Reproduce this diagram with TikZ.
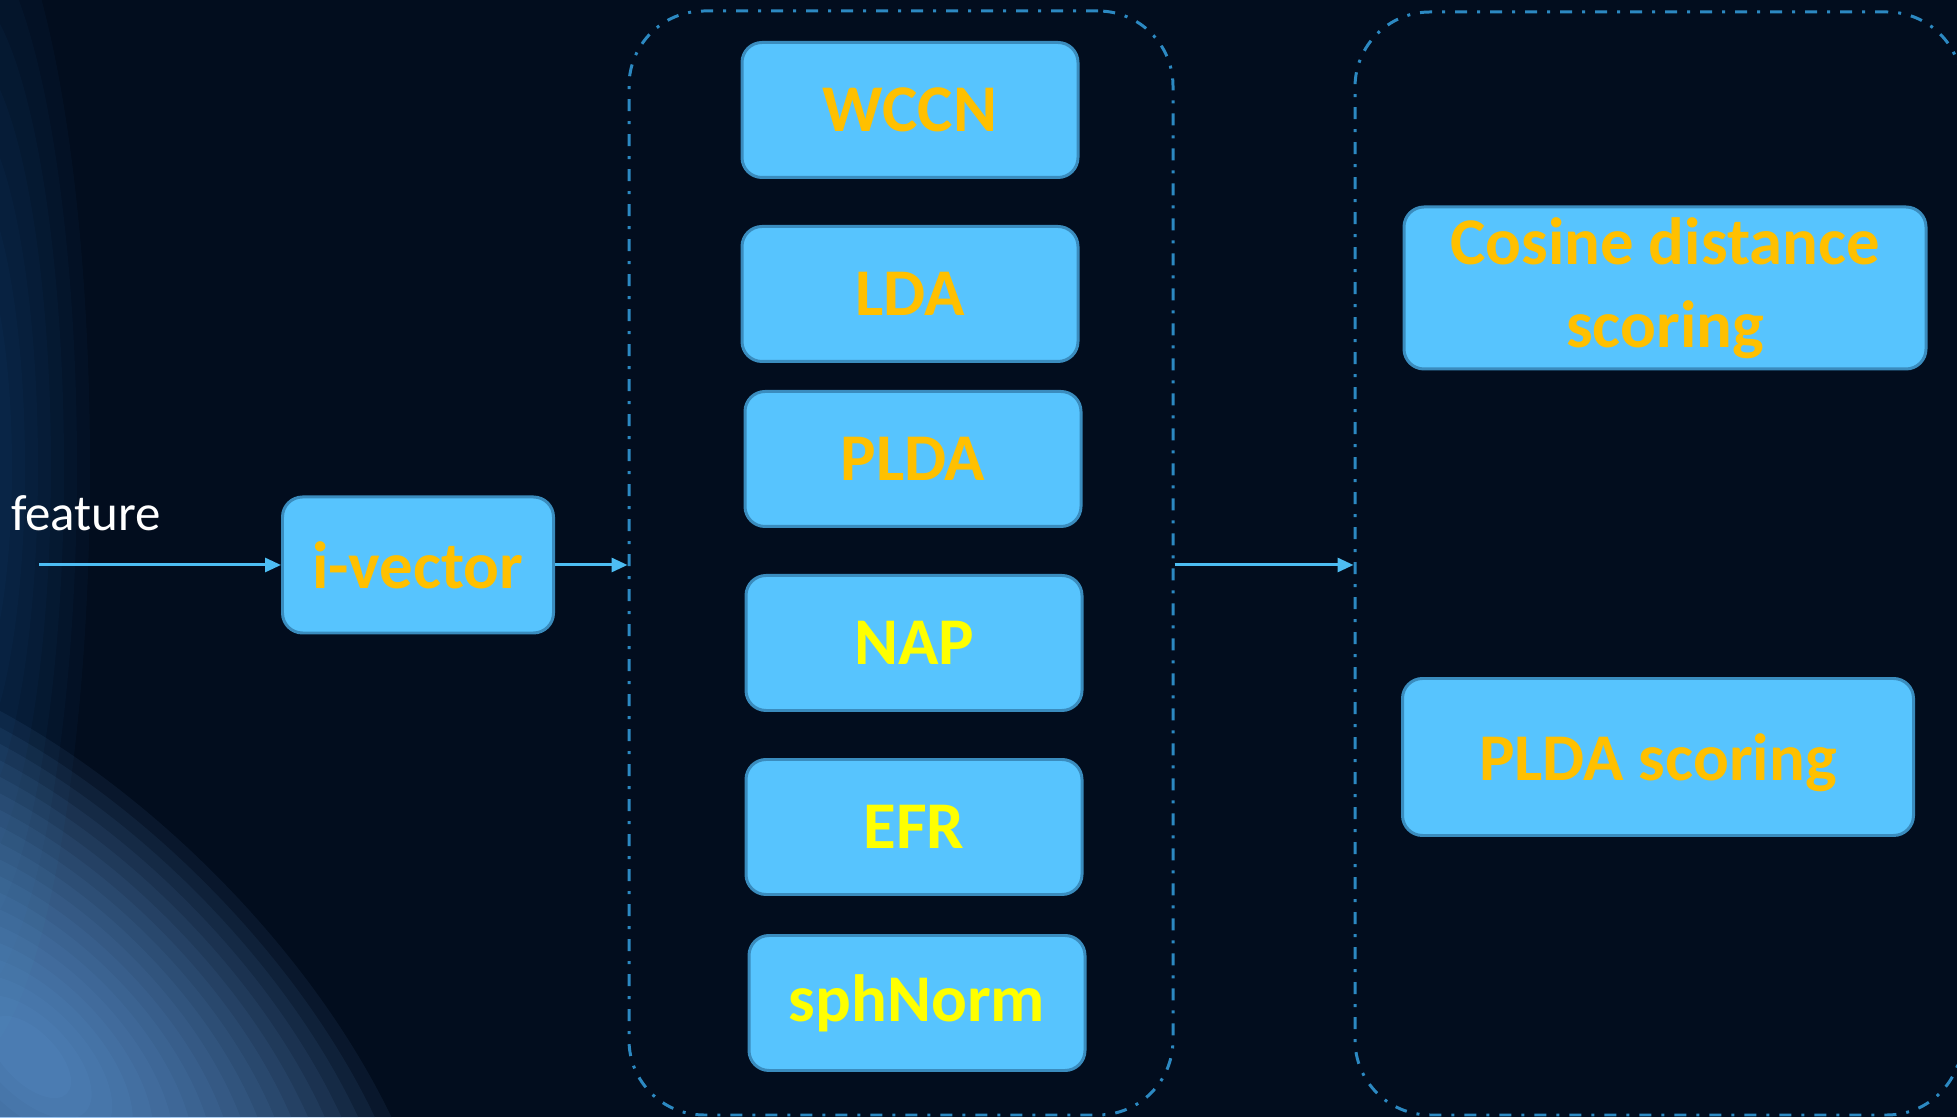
\documentclass[tikz,border=0pt]{standalone}
\usepackage{fontspec}
\setmainfont{Carlito}
\usetikzlibrary{arrows.meta, positioning, calc}

\definecolor{bgnavy}{HTML}{020D1E}
\definecolor{glowlight}{HTML}{6AA8E8}
\definecolor{edgeblue}{HTML}{1C5A9A}
\definecolor{boxfill}{HTML}{57C4FE}
\definecolor{boxline}{HTML}{3A8CBE}
\definecolor{groupline}{HTML}{2C89C2}
\definecolor{arrowblue}{HTML}{4DBDF3}
\definecolor{goldtext}{HTML}{FFC000}
\definecolor{yellowtext}{HTML}{FFFF00}

\begin{document}
\begin{tikzpicture}[>={Triangle[length=0.16cm, width=0.14cm]},
  block/.style={draw=boxline, line width=0.85pt, fill=boxfill, rounded corners=0.2cm,
    minimum width=3.36cm, minimum height=1.35cm, inner sep=0pt, align=center,
    font=\fontsize{19}{23.5}\selectfont\bfseries},
  group/.style={draw=groupline, line width=0.85pt, rounded corners=0.75cm,
    dash pattern=on 0.12cm off 0.1cm on 0.03cm off 0.1cm},
  link/.style={->, arrowblue, line width=0.85pt}]
  \useasboundingbox (0,0) rectangle (19.57,11.17);

  % Background with glow at lower left
  \fill[bgnavy] (0,0) rectangle (19.57,11.17);
  \begin{scope}
    \clip (0,0) rectangle (19.57,11.17);
    \foreach \s in {1.0,0.9,...,0.15}
      \fill[edgeblue, opacity=0.06] (-0.4,6.5) ellipse ({1.3*\s} and {6*\s});
    \foreach \s in {1.0,0.95,...,0.08}
      \fill[glowlight, opacity=0.07, rotate around={-45:(0.3,0.6)}] (0.3,0.6) ellipse ({5.2*\s} and {2.6*\s});
  \end{scope}

  % Dashed groups
  \node[group, minimum width=5.44cm, minimum height=11.04cm] (normgroup) at (9.01,5.54) {};
  \node[group, minimum width=6.07cm, minimum height=11.03cm] (scoregroup) at (16.585,5.535) {};

  % Front end
  \node[text=white, font=\fontsize{14.5}{17}\selectfont] (featlbl) at (0.86,6.04) {feature};
  \coordinate (featsrc) at (0.39,5.52);
  \node[block, minimum width=2.71cm, minimum height=1.36cm, text=goldtext] (ivec) at (4.18,5.52) {i-vector};

  % Compensation / normalisation
  \node[block, text=goldtext] (wccn) at (9.10,10.07) {WCCN};
  \node[block, text=goldtext] (lda) at (9.10,8.23) {LDA};
  \node[block, text=goldtext] (plda) at (9.13,6.58) {PLDA};
  \node[block, text=yellowtext] (nap) at (9.14,4.74) {NAP};
  \node[block, text=yellowtext] (efr) at (9.14,2.90) {EFR};
  \node[block, text=yellowtext] (sphnorm) at (9.17,1.14) {sphNorm};

  % Scoring
  \node[block, minimum width=5.22cm, minimum height=1.62cm, text=goldtext] (cosscore) at (16.65,8.29) {Cosine distance\\scoring};
  \node[block, minimum width=5.11cm, minimum height=1.57cm, text depth=0pt, text=goldtext] (pldascore) at (16.58,3.60) {PLDA scoring};

  % Arrows
  \draw[link] (featsrc) -- (ivec.west);
  \draw[link] (ivec.east) -- (ivec.east -| normgroup.west);
  \draw[link] (ivec.east -| normgroup.east) -- (ivec.east -| scoregroup.west);
\end{tikzpicture}
\end{document}
